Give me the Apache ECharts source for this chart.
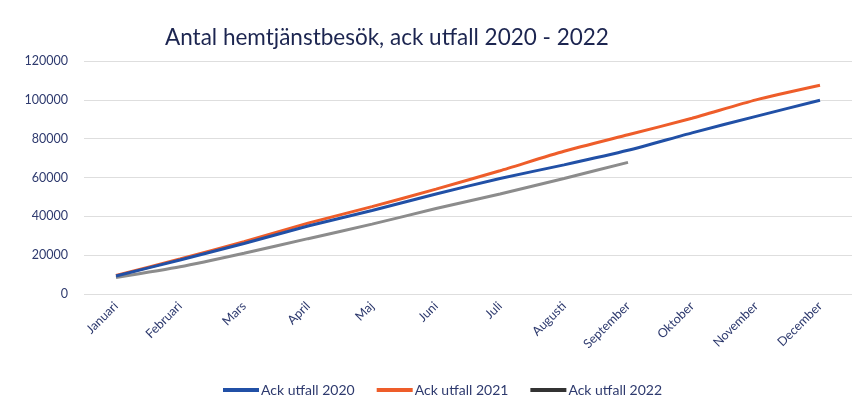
<!DOCTYPE html>
<html>
<head>
<meta charset="utf-8">
<script src="https://cdn.jsdelivr.net/npm/echarts@6/dist/echarts.min.js"></script>
<style>
  html, body { margin: 0; padding: 0; background: #fff; }
  #chart { width: 861px; height: 414px; }
</style>
</head>
<body>
<div id="chart"></div>
<script>
const months = ['Januari', 'Februari', 'Mars', 'April', 'Maj', 'Juni', 'Juli', 'Augusti', 'September', 'Oktober', 'November', 'December'];
const utfall2020 = [9300, 17500, 26000, 35000, 43000, 51500, 59500, 66500, 74000, 83000, 91500, 99800];
const utfall2021 = [9500, 18000, 27000, 36500, 45000, 54000, 63500, 73500, 82000, 90500, 100000, 107500];
const utfall2022 = [8500, 14000, 21000, 28500, 36000, 44000, 51500, 59500, 67800];
const yTicks = { min: 0, max: 120000, interval: 20000 };

const textColor = '#2e3a6e';
const chart = echarts.init(document.getElementById('chart'));

chart.setOption({
  textStyle: { fontFamily: 'Lato' },
  title: {
    text: 'Antal hemtjänstbesök, ack utfall 2020 - 2022',
    left: 160, top: 21,
    textStyle: { fontFamily: 'Lato', fontSize: 22.5, fontWeight: 'normal', color: '#1c2550' }
  },
  legend: {
    bottom: 12,
    left: 218,
    itemWidth: 36, itemHeight: 4, itemGap: 22,
    icon: 'rect',
    textStyle: { color: textColor, fontSize: 14, padding: [0, 0, 0, -3] },
    data: [
      { name: 'Ack utfall 2020' },
      { name: 'Ack utfall 2021' },
      { name: 'Ack utfall 2022', itemStyle: { color: '#333333' } }
    ]
  },
  grid: { left: 84, right: 9, top: 61, bottom: 120 },
  xAxis: {
    type: 'category',
    data: months,
    boundaryGap: true,
    axisLine: { show: false },
    axisTick: { show: false },
    axisLabel: { rotate: 45, color: textColor, fontSize: 12.5, margin: 10, interval: 0 }
  },
  yAxis: {
    type: 'value',
    min: yTicks.min, max: yTicks.max, interval: yTicks.interval,
    axisLine: { show: false },
    axisTick: { show: false },
    axisLabel: { color: textColor, fontSize: 12.5, margin: 16, formatter: v => String(v) },
    splitLine: { lineStyle: { color: '#dedede', width: 1 } }
  },
  series: [
    {
      name: 'Ack utfall 2020', type: 'line', data: utfall2020,
      symbol: 'none', smooth: 0.2,
      lineStyle: { width: 3, color: '#2150a6' }, itemStyle: { color: '#2150a6' }, z: 3
    },
    {
      name: 'Ack utfall 2021', type: 'line', data: utfall2021,
      symbol: 'none', smooth: 0.2,
      lineStyle: { width: 3, color: '#ee5d2a' }, itemStyle: { color: '#ee5d2a' }, z: 2
    },
    {
      name: 'Ack utfall 2022', type: 'line', data: utfall2022,
      symbol: 'none', smooth: 0.2,
      lineStyle: { width: 3, color: '#8c8c8c' }, itemStyle: { color: '#8c8c8c' }, z: 1
    }
  ]
});
</script>
</body>
</html>
